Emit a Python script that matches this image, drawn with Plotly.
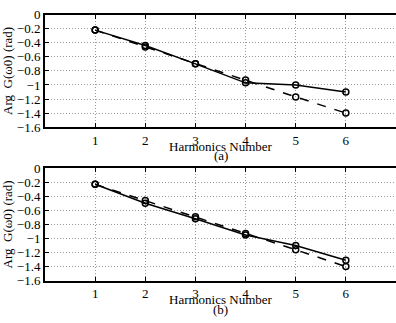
import plotly.graph_objects as go

harmonics = [1, 2, 3, 4, 5, 6]
a_solid = [-0.22, -0.44, -0.70, -0.97, -1.00, -1.10]
a_dashed = [-0.22, -0.46, -0.70, -0.93, -1.17, -1.40]
b_solid = [-0.23, -0.50, -0.72, -0.95, -1.10, -1.31]
b_dashed = [-0.23, -0.46, -0.69, -0.93, -1.16, -1.40]
x_ticks = [1, 2, 3, 4, 5, 6]
y_ticks = [0, -0.2, -0.4, -0.6, -0.8, -1, -1.2, -1.4, -1.6]
x_title = "Harmonics Number"
y_title = "Arg  G(ω0) (rad)"
panel_labels = ["(a)", "(b)"]

W, H = 396, 323
FONT = "Liberation Serif"
FS = 13

fig = go.Figure()

panels = [(a_solid, a_dashed, "x", "y"), (b_solid, b_dashed, "x2", "y2")]
for solid, dashed, xa, ya in panels:
    fig.add_trace(go.Scatter(x=harmonics, y=solid, mode="lines+markers", xaxis=xa, yaxis=ya,
                             line=dict(color="black", width=1.5),
                             marker=dict(symbol="circle-open", size=6, color="black",
                                         line=dict(width=1.5, color="black")),
                             showlegend=False))
    fig.add_trace(go.Scatter(x=harmonics, y=dashed, mode="lines+markers", xaxis=xa, yaxis=ya,
                             line=dict(color="black", width=1.5, dash="dash"),
                             marker=dict(symbol="circle-open", size=6, color="black",
                                         line=dict(width=1.5, color="black")),
                             showlegend=False))

def ydom(top_px, bot_px):
    return [1 - bot_px / H, 1 - top_px / H]

GRID = dict(showgrid=True, gridcolor="#999999", griddash="1px,2px", gridwidth=1)

xcommon = dict(range=[0, 7], tickvals=x_ticks, zeroline=False, showline=True, linecolor="black",
               linewidth=2, mirror="ticks", ticks="inside", ticklen=4, tickcolor="black",
               tickfont=dict(family=FONT, size=FS, color="black"), domain=[0, 1], **GRID)
ycommon = dict(range=[-1.6, 0], tickvals=y_ticks, zeroline=False, showline=True, linecolor="black",
               linewidth=2, mirror=False, ticks="inside", ticklen=4, tickcolor="black",
               tickfont=dict(family=FONT, size=FS, color="black"),
               title=dict(text=y_title, font=dict(family=FONT, size=FS, color="black"), standoff=2),
               **GRID)

fig.update_layout(
    width=W, height=H, margin=dict(l=45, r=0, t=0, b=0),
    plot_bgcolor="white", paper_bgcolor="white",
    xaxis=dict(xcommon, anchor="y"),
    yaxis=dict(ycommon, domain=ydom(8, 126), anchor="x"),
    xaxis2=dict(xcommon, anchor="y2"),
    yaxis2=dict(ycommon, domain=ydom(169, 287), anchor="x2"),
)

for lab, ypx in zip(panel_labels, [126, 287]):
    fig.add_annotation(text=x_title, xref="paper", yref="paper", x=0.5,
                       y=1 - (ypx + 20) / H, showarrow=False, yanchor="middle",
                       font=dict(family=FONT, size=FS, color="black"))
    fig.add_annotation(text=lab, xref="paper", yref="paper", x=0.5,
                       y=1 - (ypx + 30) / H, showarrow=False, yanchor="middle",
                       font=dict(family=FONT, size=FS, color="black"))

fig.write_html("out.html")
